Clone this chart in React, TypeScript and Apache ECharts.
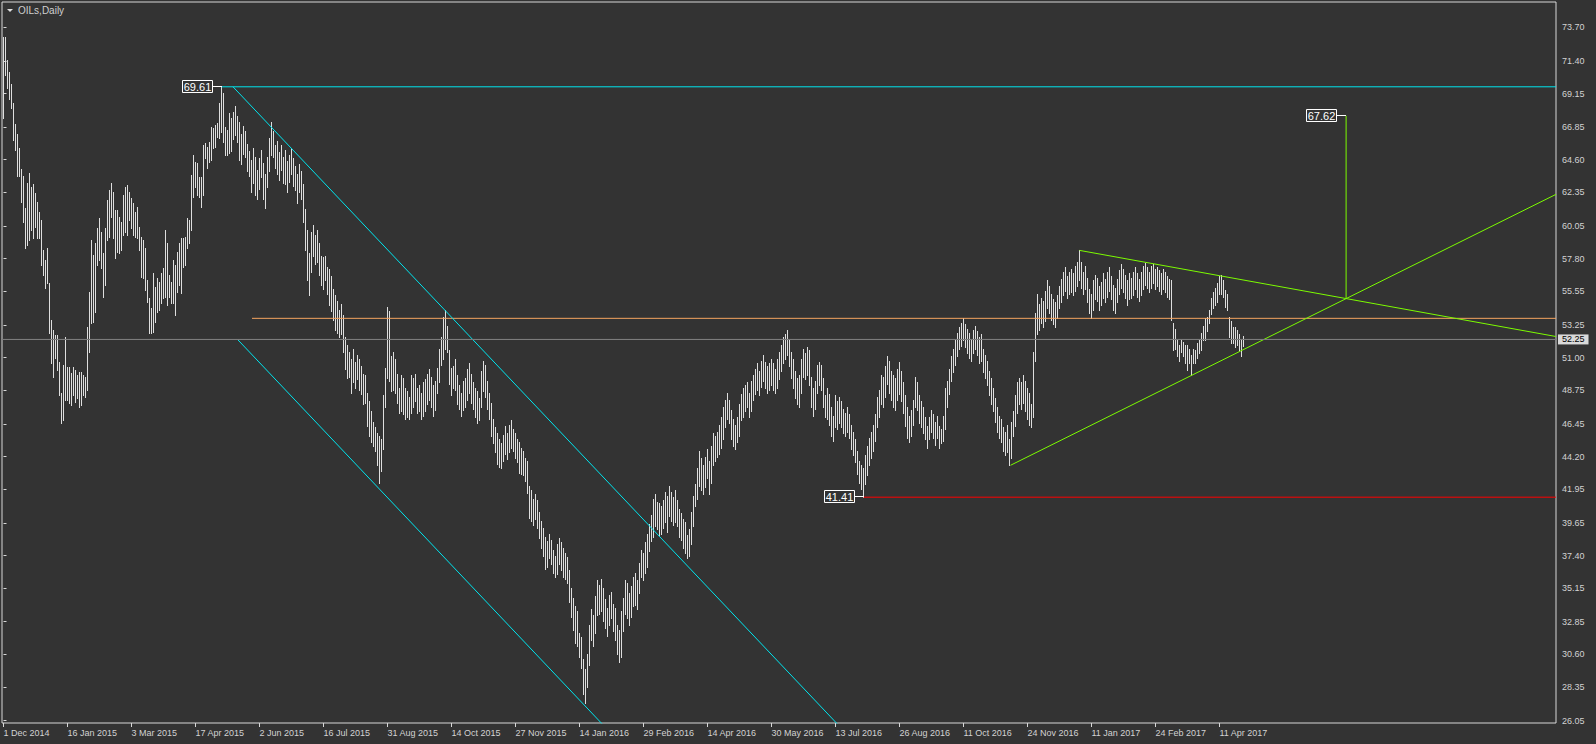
import React, { useEffect, useRef } from "react";
import * as echarts from "echarts";

// ---- data ----
const HIGHS = [
  73.06,73.06,71.46,70.66,69.81,68.48,67.04,66.37,65.43,63.99,
  63.51,61.26,62.98,63.67,62.71,62.94,62.29,61.68,61.04,60.46,
  58.40,57.71,58.51,56.11,53.59,52.90,52.56,52.56,50.73,48.55,
  50.50,52.44,50.38,50.38,49.92,50.38,50.15,49.81,50.04,50.04,
  49.81,49.69,53.13,55.54,59.09,58.06,58.86,59.89,60.58,59.66,
  58.17,59.89,61.84,62.52,62.98,62.41,61.15,61.15,60.69,60.35,
  62.18,62.75,62.87,62.41,61.95,61.61,61.04,61.38,60.00,59.32,
  59.09,58.51,56.34,55.08,54.39,56.80,55.88,56.45,56.22,56.80,
  57.14,59.77,58.86,56.68,56.22,57.71,57.37,58.28,58.86,59.20,
  59.20,59.32,60.58,60.46,63.55,64.93,64.47,64.36,63.44,63.44,
  65.62,65.73,65.50,65.85,66.88,66.76,66.99,67.11,68.48,69.61,
  69.17,66.88,66.65,67.79,67.5,67.9,68.3,67.6,67.2,66.4,
  66.9,66.6,65.7,65.2,64.6,65.4,64.8,63.9,64.7,65.3,
  64.4,63.6,64.8,66.1,67.2,66.6,65.6,65.9,65.1,65.6,
  64.8,65.3,64.5,64.9,65.4,64.7,64.2,63.6,64.3,63.8,
  62.9,61.2,59.8,58.2,59.6,60.1,59.4,59.8,58.9,58.0,
  57.9,58.0,57.2,57.1,56.6,55.7,55.3,54.9,54.3,54.7,
  53.9,52.4,51.9,51.4,50.9,51.6,50.7,51.2,50.9,50.4,
  49.9,49.8,48.6,48.0,47.3,46.6,46.2,45.8,45.6,45.4,
  48.4,50.3,54.5,54.2,51.1,51.4,50.9,49.9,48.9,49.8,
  49.6,48.9,48.7,48.3,49.8,49.6,49.9,48.9,49.1,48.6,
  49.3,49.5,49.9,50.2,49.7,49.1,49.4,50.3,51.6,52.4,
  53.8,54.3,53.2,51.5,50.3,50.4,50.9,49.8,49.1,48.6,
  49.4,49.6,50.2,50.6,49.9,49.3,48.9,48.7,48.2,50.1,
  50.8,50.5,49.4,48.6,47.9,46.8,46.2,45.8,45.4,45.1,
  45.7,46.3,45.8,46.4,46.7,46.1,45.8,45.4,45.2,44.8,
  44.6,44.1,43.9,42.2,41.9,41.3,41.6,41.2,40.4,39.8,
  39.3,38.7,38.4,38.9,38.5,37.8,37.4,38.2,38.6,38.3,
  37.9,37.6,37.3,36.4,35.2,34.5,33.9,33.6,32.1,31.8,
  30.3,29.6,30.6,32.6,33.7,33.3,34.6,35.7,35.4,35.8,
  35.2,34.4,33.8,34.7,34.9,34.1,33.8,32.6,32.3,33.6,
  34.5,35.7,35.5,34.8,35.3,35.9,36.2,35.7,36.9,37.8,
  37.6,38.3,38.9,39.6,40.2,41.3,41.6,41.1,41.0,40.8,
  41.2,41.8,41.5,42.2,41.8,41.4,41.9,41.2,40.6,40.3,
  39.9,39.7,38.8,39.2,40.4,41.5,42.3,43.4,44.6,44.1,
  43.6,44.2,44.7,43.9,44.9,45.8,45.6,45.9,46.4,46.9,
  47.6,48.1,48.6,48.1,47.4,46.8,46.4,46.9,47.8,48.5,
  48.9,49.1,49.3,48.6,49.4,49.8,50.2,50.6,50.1,50.8,
  51.2,50.7,50.4,50.6,50.9,50.6,50.2,50.9,51.4,51.9,
  52.4,52.6,52.9,52.3,51.4,50.9,50.1,49.6,49.8,50.9,
  51.6,51.3,51.7,51.5,49.7,48.9,49.4,50.5,50.7,50.5,
  49.6,48.4,48.9,48.5,47.6,47.0,48.4,48.0,48.3,48.0,
  47.5,47.2,47.6,47.1,46.4,45.9,45.4,44.6,43.9,43.6,
  43.4,44.3,44.9,45.5,45.9,46.4,47.1,48.3,48.8,49.8,
  49.7,50.4,51.1,50.8,50.1,49.8,49.6,50.2,50.7,50.1,
  49.3,48.4,47.6,47.0,47.4,48.1,49.7,49.3,48.4,48.0,
  47.6,46.9,46.3,46.9,47.4,47.1,46.6,47.0,46.3,46.1,
  47.0,48.9,49.4,50.2,51.1,51.6,52.2,52.7,53.1,53.4,
  53.7,53.3,53.0,52.7,52.3,52.9,53.2,52.8,52.4,52.6,
  51.6,51.2,50.8,50.1,49.6,48.9,48.2,47.6,47.0,46.8,
  46.2,45.9,46.4,45.4,46.6,47.3,48.4,49.3,49.6,49.3,
  49.8,49.4,48.9,48.6,47.8,51.4,54.1,55.4,54.7,55.1,
  54.9,55.6,56.3,55.9,55.4,55.0,54.8,55.3,55.9,56.4,
  56.9,57.2,56.6,56.9,57.1,56.8,57.3,57.6,58.37,57.6,
  56.9,57.3,56.5,55.7,55.4,56.3,56.7,56.5,55.9,56.2,
  56.8,56.4,56.9,57.2,56.6,56.0,55.8,56.4,57.0,57.4,
  57.1,56.7,56.3,56.8,56.5,56.9,57.2,56.8,56.4,56.9,
  57.3,57.5,57.2,56.9,57.3,57.4,57.1,57.2,57.0,56.8,
  57.1,56.9,56.6,56.4,56.3,53.4,53.0,52.2,51.9,52.2,
  52.1,51.9,51.9,51.6,51.2,51.6,51.5,52.0,52.2,52.7,
  53.2,53.7,53.8,54.3,55.1,55.5,55.8,56.1,56.6,56.65,
  56.3,55.65,55.4,53.8,53.5,53.1,53.1,52.9,52.6,52.2,
  52.5
];

const LOWS = [
  67.50,70.43,69.51,68.80,68.14,65.96,65.27,63.51,63.51,61.72,
  60.35,58.51,58.74,59.09,59.77,59.20,60.00,59.20,59.20,57.37,
  56.68,55.77,56.11,52.67,50.61,49.69,50.95,50.15,48.43,46.49,
  46.72,48.09,48.09,47.86,47.75,48.43,47.98,48.20,47.63,47.75,
  48.43,48.32,48.78,51.41,53.36,53.47,54.16,57.37,57.71,57.14,
  55.19,55.99,59.09,59.32,60.69,59.20,57.83,58.28,58.17,58.40,
  59.43,59.66,59.43,60.46,59.89,59.43,59.32,59.20,58.40,56.57,
  56.45,55.65,54.85,52.67,52.67,52.79,53.47,54.16,54.28,54.73,
  55.08,55.19,54.62,55.19,54.73,54.73,53.93,55.54,55.99,55.42,
  57.25,57.37,58.51,58.86,59.77,62.07,62.75,62.18,62.07,61.38,
  62.18,64.70,64.01,64.47,64.59,65.39,65.50,66.19,66.07,66.53,
  65.85,64.93,64.93,65.04,65.2,66.0,66.3,65.8,64.6,64.3,
  65.0,64.8,63.8,63.5,62.4,63.0,62.2,61.9,62.6,63.4,
  61.9,61.3,62.7,63.8,64.9,64.8,64.0,63.6,63.2,63.9,
  63.0,62.9,62.4,63.1,63.6,62.8,62.5,61.6,62.4,61.9,
  60.3,58.4,56.3,55.3,56.9,58.0,57.4,57.6,56.7,56.0,
  55.7,56.3,55.4,54.6,54.2,53.6,52.9,52.7,52.4,52.6,
  51.4,50.2,49.6,49.7,48.6,49.3,48.9,49.5,48.8,48.5,
  47.8,47.9,46.3,45.6,45.2,44.9,44.6,43.6,42.4,43.2,
  44.7,47.6,49.6,49.4,48.7,48.8,48.6,47.9,47.2,47.3,
  47.1,46.8,46.9,46.8,47.2,47.6,48.0,47.2,47.3,46.8,
  47.0,47.3,47.8,48.1,47.6,47.0,47.4,48.6,49.3,50.5,
  50.9,51.6,51.4,49.2,48.4,48.9,48.8,47.8,47.5,47.0,
  47.4,47.6,48.1,48.6,47.9,47.5,46.9,46.5,46.7,47.6,
  48.7,48.3,47.5,46.8,45.6,45.1,44.5,43.7,43.5,43.4,
  43.9,44.4,44.0,44.5,44.8,44.6,44.1,43.8,43.1,43.0,
  42.9,42.5,41.7,40.0,39.8,39.5,39.9,39.3,38.6,37.9,
  37.4,36.5,36.6,37.2,36.8,36.2,35.9,36.1,36.8,36.4,
  35.9,35.8,35.5,34.2,33.2,32.3,31.4,31.2,30.4,29.7,
  27.9,27.3,28.4,29.9,31.6,31.2,32.1,33.3,33.4,33.6,
  32.9,32.4,31.9,32.6,33.1,32.2,31.6,30.6,30.1,30.4,
  32.2,33.4,33.1,32.6,33.2,33.9,34.0,33.7,34.8,35.9,
  35.7,36.2,36.6,37.7,38.4,38.7,39.4,39.2,38.8,38.9,
  39.3,39.7,39.0,40.1,39.8,39.5,39.7,39.4,38.7,38.5,
  37.9,37.6,37.2,37.4,38.2,39.4,40.8,41.3,42.2,41.9,
  41.6,42.1,42.7,41.6,42.4,43.6,43.9,44.2,44.4,44.8,
  45.4,46.2,46.8,46.5,45.4,44.9,44.7,45.2,45.6,46.7,
  46.9,47.3,47.6,46.9,47.3,48.1,48.5,48.8,48.4,49.0,
  49.4,48.9,48.6,48.8,49.1,48.8,48.6,48.9,49.5,50.1,
  50.6,50.9,51.2,50.4,49.6,48.9,48.2,47.8,47.6,48.6,
  49.7,49.5,49.8,49.1,47.6,47.0,47.5,48.6,49.1,48.8,
  47.6,46.9,46.8,46.4,45.6,45.3,46.2,46.1,46.5,46.2,
  45.8,45.6,45.9,45.5,44.7,44.3,43.8,43.0,42.4,42.0,
  41.41,42.3,42.9,43.6,44.1,44.6,45.3,46.2,46.9,47.8,
  47.6,48.3,49.2,48.6,48.1,47.6,47.4,48.1,48.5,48.0,
  47.2,46.3,45.5,45.2,45.6,46.4,47.6,47.4,46.5,46.2,
  45.8,45.4,44.8,45.4,45.9,45.5,45.0,45.5,44.8,45.1,
  45.3,46.1,47.6,48.5,49.4,50.0,50.5,51.1,51.6,51.8,
  52.2,51.7,51.3,51.0,50.8,51.3,51.6,51.2,50.6,50.8,
  50.0,49.6,49.1,48.4,47.8,47.3,46.6,45.9,45.5,45.2,
  44.6,44.3,44.5,43.6,44.1,45.6,46.3,47.2,47.8,47.5,
  47.9,47.3,46.8,46.4,46.2,46.9,50.8,52.6,52.9,53.4,
  53.1,53.5,54.4,54.1,53.6,53.3,53.1,53.7,54.4,54.8,
  55.3,55.6,55.1,55.4,55.5,55.3,55.6,55.9,56.3,55.8,
  55.4,55.7,54.8,54.1,53.7,54.3,55.0,54.9,54.3,54.6,
  55.1,54.8,55.2,55.6,55.0,54.3,54.1,54.8,55.4,55.8,
  55.5,55.1,54.6,55.0,55.1,55.3,55.7,55.2,54.9,55.3,
  55.7,56.0,55.8,55.5,55.8,56.1,55.7,55.9,55.6,55.4,
  55.7,55.5,55.2,55.0,53.6,51.5,51.6,51.1,50.8,51.4,
  51.1,50.6,50.15,50.6,49.8,50.6,50.6,51.0,51.3,51.5,
  52.2,52.2,52.8,53.4,54.0,54.4,54.6,54.85,55.4,55.4,
  55.2,54.5,54.3,52.4,52.0,52.0,51.75,51.9,51.5,51.1,
  51.8
];

const DATE_LABELS = [
  "1 Dec 2014", "16 Jan 2015", "3 Mar 2015", "17 Apr 2015", "2 Jun 2015",
  "16 Jul 2015", "31 Aug 2015", "14 Oct 2015", "27 Nov 2015", "14 Jan 2016",
  "29 Feb 2016", "14 Apr 2016", "30 May 2016", "13 Jul 2016", "26 Aug 2016",
  "11 Oct 2016", "24 Nov 2016", "11 Jan 2017", "24 Feb 2017", "11 Apr 2017"
];
const BARS_PER_DATE_LABEL = 32;

const PRICE_TICKS = [
  26.05, 28.35, 30.60, 32.85, 35.15, 37.40, 39.65, 41.95, 44.20, 46.45, 48.75,
  51.00, 53.25, 55.55, 57.80, 60.05, 62.35, 64.60, 66.85, 69.15, 71.40, 73.70
];

const CURRENT_PRICE = 52.25;

// trend / level objects: [barIndex, price] anchor points
const X_MIN = -0.75;
const X_MAX = 776.25;
const Y_MIN = 25.892;
const Y_MAX = 75.438;

const CYAN_LEVEL = [[109, 69.61], [X_MAX, 69.61]];
const CYAN_CHANNEL_TOP = [[114.75, 69.61], [420, 25.38]];
const CYAN_CHANNEL_BOTTOM = [[116.8, 52.28], [302, 25.44]];
const ORANGE_LEVEL = [[124.25, 53.7], [X_MAX, 53.7]];
const RED_LEVEL = [[430, 41.41], [X_MAX, 41.41]];
const GREEN_TOP = [[538, 58.37], [X_MAX, 52.45]];
const GREEN_BOTTOM = [[503.5, 43.6], [X_MAX, 62.22]];
const GREEN_TARGET = [[671.3, 55.06], [671.3, 67.62]];

const PRICE_LABEL_POINTS = [[109, 69.61], [430, 41.41], [671.3, 67.62]];
const PRICE_LABEL_TEXTS = ["69.61", "41.41", "67.62"];

const FONT = "'Liberation Sans', Arial, sans-serif";
const BG = "#333333";
const FG = "#d2d2d2";

function lineSeries(data: number[][], color: string, extra: any = {}) {
  return {
    type: "line",
    data,
    symbol: "none",
    silent: true,
    clip: true,
    lineStyle: { color, width: 1 },
    z: 3,
    ...extra,
  };
}

export default function App() {
  const ref = useRef<HTMLDivElement>(null);

  useEffect(() => {
    if (!ref.current) return;
    const chart = echarts.init(ref.current, null, { renderer: "svg" });
    const bars = HIGHS.map((h, i) => [i, h, LOWS[i]]);
    const dateTicks = DATE_LABELS.map((_, k) => k * BARS_PER_DATE_LABEL);

    const option: any = {
      animation: false,
      backgroundColor: BG,
      grid: {
        left: 2,
        top: 2,
        right: 40,
        bottom: 21,
        show: true,
        borderColor: "#d8d8d8",
        borderWidth: 1,
        backgroundColor: "transparent",
      },
      xAxis: {
        type: "value",
        min: X_MIN,
        max: X_MAX,
        splitLine: { show: false },
        axisLine: { show: false },
        axisTick: {
          show: true,
          customValues: dateTicks,
          length: 4,
          lineStyle: { color: "#d8d8d8" },
        },
        axisLabel: {
          customValues: dateTicks,
          formatter: (v: number) => DATE_LABELS[Math.round(v / BARS_PER_DATE_LABEL)] || "",
          color: FG,
          fontSize: 9,
          fontFamily: FONT,
          align: "left",
          margin: 5,
          hideOverlap: false,
        },
      },
      yAxis: {
        type: "value",
        position: "right",
        min: Y_MIN,
        max: Y_MAX,
        splitLine: { show: false },
        axisLine: { show: false },
        axisTick: {
          show: true,
          customValues: PRICE_TICKS,
          length: 3,
          lineStyle: { color: "#d8d8d8" },
        },
        axisLabel: {
          customValues: PRICE_TICKS,
          formatter: (v: number) => v.toFixed(2),
          color: FG,
          fontSize: 9,
          fontFamily: FONT,
          align: "left",
          margin: 6,
          hideOverlap: false,
        },
      },
      graphic: [
        {
          type: "polygon",
          shape: { points: [[7, 9], [13, 9], [10, 12]] },
          style: { fill: "#e0e0e0" },
        },
        {
          type: "text",
          x: 18,
          y: 5,
          style: { text: "OILs,Daily", fill: "#cfcfcf", font: `10px ${FONT}` },
        },
      ],
      series: [
        {
          type: "custom",
          data: bars,
          encode: { x: 0, y: [1, 2] },
          clip: true,
          silent: true,
          z: 2,
          renderItem: (params: any, api: any) => {
            const i = api.value(0);
            const top = api.coord([i, api.value(1)]);
            const bot = api.coord([i, api.value(2)]);
            const x = Math.floor(top[0]) + 0.5;
            return {
              type: "line",
              shape: { x1: x, y1: Math.round(top[1]), x2: x, y2: Math.round(bot[1]) + 1 },
              style: { stroke: "#dedede", lineWidth: 1 },
            };
          },
        },
        lineSeries([[X_MIN, CURRENT_PRICE], [X_MAX, CURRENT_PRICE]], "#7c7c7c", {
          z: 2.5,
          markLine: {
            silent: true,
            symbol: ["none", "none"],
            data: [{ yAxis: CURRENT_PRICE }],
            lineStyle: { color: "#7c7c7c", width: 1, type: "solid" },
            label: {
              position: "end",
              formatter: CURRENT_PRICE.toFixed(2),
              backgroundColor: "#d9d9d9",
              color: "#000000",
              padding: [1, 4, 0, 4],
              fontSize: 9,
              fontFamily: FONT,
              distance: 2,
            },
          },
        }),
        lineSeries(ORANGE_LEVEL, "#f4a460"),
        lineSeries(RED_LEVEL, "#ff0000"),
        lineSeries(CYAN_LEVEL, "#00e5ee"),
        lineSeries(CYAN_CHANNEL_TOP, "#00e5ee"),
        lineSeries(CYAN_CHANNEL_BOTTOM, "#00e5ee"),
        lineSeries(GREEN_TOP, "#7cfc00"),
        lineSeries(GREEN_BOTTOM, "#7cfc00"),
        lineSeries(GREEN_TARGET, "#7cfc00"),
        {
          type: "custom",
          data: PRICE_LABEL_POINTS,
          encode: { x: 0, y: 1 },
          clip: false,
          silent: true,
          z: 5,
          renderItem: (params: any, api: any) => {
            const p = api.coord([api.value(0), api.value(1)]);
            const x = Math.round(p[0]);
            const y = Math.round(p[1]) - 0.5;
            const text = PRICE_LABEL_TEXTS[params.dataIndex];
            return {
              type: "group",
              children: [
                {
                  type: "line",
                  shape: { x1: x - 9, y1: y, x2: x, y2: y },
                  style: { stroke: "#ffffff", lineWidth: 1 },
                },
                {
                  type: "rect",
                  shape: { x: x - 39.5, y: y - 6, width: 30, height: 12 },
                  style: { fill: BG, stroke: "#ffffff", lineWidth: 1 },
                },
                {
                  type: "text",
                  style: {
                    text,
                    x: x - 24.5,
                    y: y + 0.5,
                    align: "center",
                    verticalAlign: "middle",
                    fill: "#ffffff",
                    font: `11px ${FONT}`,
                  },
                },
              ],
            };
          },
        },
      ],
    };

    chart.setOption(option);
    return () => chart.dispose();
  }, []);

  return (
    <div
      ref={ref}
      style={{ position: "fixed", left: 0, top: 0, width: 1596, height: 744, background: BG }}
    />
  );
}
